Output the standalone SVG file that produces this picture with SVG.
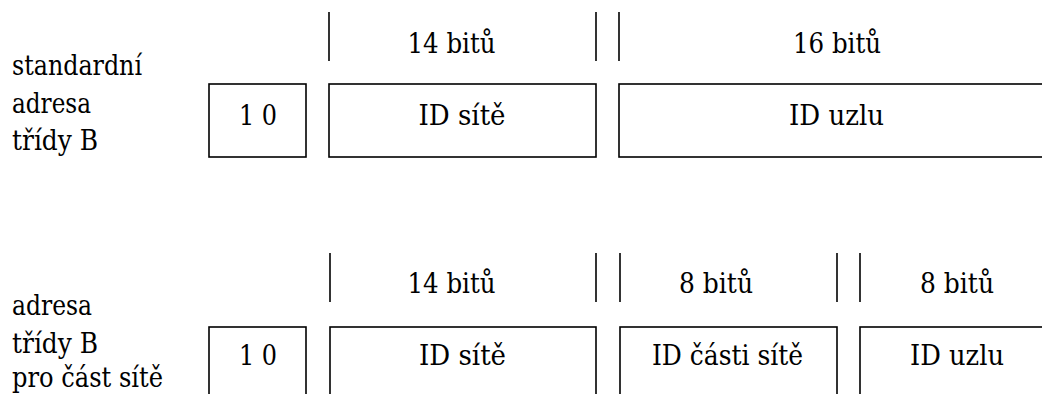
<svg xmlns="http://www.w3.org/2000/svg" width="1042" height="394" viewBox="0 0 1042 394">
  <style>
    text { font-family: 'DejaVu Serif Condensed', 'DejaVu Serif', serif; font-stretch: condensed; font-size: 28px; fill: #000; }
    .c { text-anchor: middle; }
    .box { fill: #fff; stroke: #000; stroke-width: 1.6; }
    .tick { stroke: #000; stroke-width: 1.6; }
  </style>
  <rect width="1042" height="394" fill="#fff"/>

  <!-- Standard class B address -->
  <g id="label-standard">
    <text x="12" y="75" textLength="130" lengthAdjust="spacingAndGlyphs">standardní</text>
    <text x="12" y="113" textLength="79" lengthAdjust="spacingAndGlyphs">adresa</text>
    <text x="12" y="150" textLength="86" lengthAdjust="spacingAndGlyphs">třídy B</text>
  </g>
  <g id="std-prefix">
    <rect class="box" x="209" y="84" width="97" height="73"/>
    <text class="c" x="258" y="125" textLength="38" lengthAdjust="spacingAndGlyphs">1 0</text>
  </g>
  <g id="std-net">
    <rect class="box" x="329" y="84" width="267" height="73"/>
    <text class="c" x="462" y="125" textLength="87" lengthAdjust="spacingAndGlyphs">ID sítě</text>
  </g>
  <g id="std-host">
    <rect class="box" x="619" y="84" width="435" height="73"/>
    <text class="c" x="836.5" y="125" textLength="95" lengthAdjust="spacingAndGlyphs">ID uzlu</text>
  </g>
  <g id="std-widths">
    <text class="c" x="451.5" y="53" textLength="88" lengthAdjust="spacingAndGlyphs">14 bitů</text>
    <text class="c" x="837" y="53" textLength="88" lengthAdjust="spacingAndGlyphs">16 bitů</text>
  </g>

  <!-- Class B address with subnet -->
  <g id="label-subnet">
    <text x="12" y="315" textLength="80" lengthAdjust="spacingAndGlyphs">adresa</text>
    <text x="12" y="353" textLength="86" lengthAdjust="spacingAndGlyphs">třídy B</text>
    <text x="12" y="387" textLength="151" lengthAdjust="spacingAndGlyphs">pro část sítě</text>
  </g>
  <g id="sub-prefix">
    <rect class="box" x="209" y="327" width="97" height="80"/>
    <text class="c" x="258" y="365" textLength="38" lengthAdjust="spacingAndGlyphs">1 0</text>
  </g>
  <g id="sub-net">
    <rect class="box" x="330" y="327" width="266" height="80"/>
    <text class="c" x="462.5" y="365" textLength="87" lengthAdjust="spacingAndGlyphs">ID sítě</text>
  </g>
  <g id="sub-subnet">
    <rect class="box" x="620" y="327" width="217" height="80"/>
    <text class="c" x="727.5" y="365" textLength="151" lengthAdjust="spacingAndGlyphs">ID části sítě</text>
  </g>
  <g id="sub-host">
    <rect class="box" x="860" y="327" width="194" height="80"/>
    <text class="c" x="957" y="365" textLength="94" lengthAdjust="spacingAndGlyphs">ID uzlu</text>
  </g>
  <g id="sub-widths">
    <text class="c" x="451.5" y="293" textLength="88" lengthAdjust="spacingAndGlyphs">14 bitů</text>
    <text class="c" x="716" y="293" textLength="74" lengthAdjust="spacingAndGlyphs">8 bitů</text>
    <text class="c" x="957" y="293" textLength="74" lengthAdjust="spacingAndGlyphs">8 bitů</text>
  </g>

  <!-- field boundary ticks -->
  <g id="ticks">
    <line class="tick" x1="329" y1="12" x2="329" y2="61"/>
    <line class="tick" x1="596" y1="12" x2="596" y2="61"/>
    <line class="tick" x1="619" y1="12" x2="619" y2="61"/>
    <line class="tick" x1="330" y1="253" x2="330" y2="302"/>
    <line class="tick" x1="596" y1="253" x2="596" y2="302"/>
    <line class="tick" x1="620" y1="253" x2="620" y2="302"/>
    <line class="tick" x1="837" y1="253" x2="837" y2="302"/>
    <line class="tick" x1="860" y1="253" x2="860" y2="302"/>
  </g>
</svg>
